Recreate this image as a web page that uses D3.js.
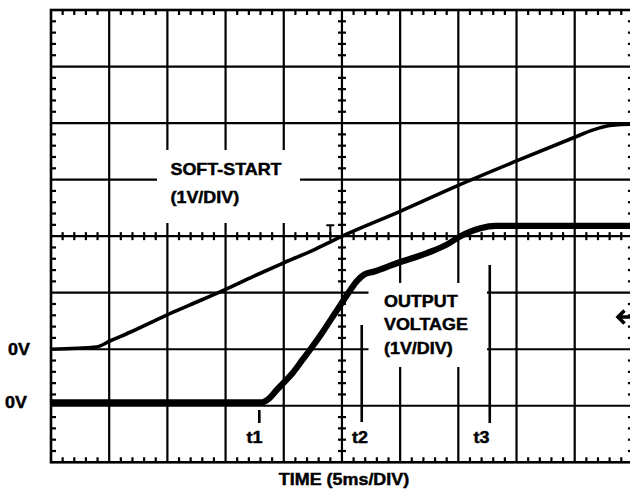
<!DOCTYPE html>
<html><head><meta charset="utf-8">
<script src="https://cdn.jsdelivr.net/npm/d3@7"></script>
<style>body{margin:0;background:#fff}svg{display:block}text{font-family:"Liberation Sans",Arial,sans-serif;font-weight:bold;fill:#000;stroke:#000;stroke-width:0.45px}</style>
</head><body><svg id="c" width="630" height="490"></svg>
<script>
// time in ms (5 ms/div), voltage in V (1 V/div)
const softStartT = [0, 3.9, 5.1, 6.8, 9.9, 11.9, 15.0, 17.4, 19.9, 22.5, 24.8, 30.0, 34.9, 40.0, 45.0, 46.6, 48.2, 49.8, 50];
const softStartV = [0, 0.04, 0.15, 0.30, 0.60, 0.78, 1.06, 1.29, 1.52, 1.75, 1.98, 2.44, 2.89, 3.33, 3.75, 3.88, 3.96, 3.98, 3.98];
const outputT = [0, 18.1, 18.8, 19.4, 20.0, 20.8, 21.6, 22.4, 23.2, 24.0, 24.8, 25.6, 26.3, 26.9, 27.7, 29.7, 32.3, 34.0, 35.1, 36.9, 38.2, 50];
const outputV = [0, 0, 0.08, 0.22, 0.35, 0.53, 0.75, 0.97, 1.20, 1.45, 1.70, 1.95, 2.15, 2.26, 2.31, 2.46, 2.64, 2.79, 2.93, 3.08, 3.12, 3.12];
const softStartZeroDiv = 2.0;   // channel ground position (divisions from bottom)
const outputZeroDiv = 1.06;
const timeMarkers = ["t1", "t2", "t3"];
const timeMarkerT = [17.9, 26.7, 37.7];
const xTitle = "TIME (5ms/DIV)";

const svg = d3.select("#c");
const L = 51, R = 632.9, T = 10, B = 462.3;
const x = d3.scaleLinear().domain([0, 50]).range([L, R]);
const yd = d3.scaleLinear().domain([0, 8]).range([B, T]);
const g = svg.append("g");

// major grid
const gridX = d3.range(5, 50, 5), gridY = d3.range(1, 8, 1);
g.selectAll(".vx").data(gridX).join("line").attr("x1", d => x(d)).attr("x2", d => x(d))
  .attr("y1", T).attr("y2", B).attr("stroke", "#000").attr("stroke-width", 2.2);
g.selectAll(".hy").data(gridY).join("line").attr("y1", d => yd(d)).attr("y2", d => yd(d))
  .attr("x1", L).attr("x2", R).attr("stroke", "#000").attr("stroke-width", 2.2);

// label boxes hiding grid
g.append("rect").attr("x", 157).attr("y", 150).attr("width", 143).attr("height", 73).attr("fill", "#fff");
g.append("rect").attr("x", 368.5).attr("y", 283).attr("width", 118.5).attr("height", 84).attr("fill", "#fff");

// border
g.append("rect").attr("x", L).attr("y", T).attr("width", R - L).attr("height", B - T)
  .attr("fill", "none").attr("stroke", "#000").attr("stroke-width", 2.6);

// minor ticks
const minorX = d3.range(1, 50, 1).filter(d => d % 5 !== 0);
const minorY = d3.range(0.2, 8, 0.2).filter(d => Math.abs(d - Math.round(d)) > 0.01);
const tk = 5;
const ticks = [];
minorX.forEach(d => { ticks.push([x(d), T, x(d), T + tk]); ticks.push([x(d), B, x(d), B - tk]); ticks.push([x(d), yd(4) - 4, x(d), yd(4) + 4]); });
minorY.forEach(d => { ticks.push([L, yd(d), L + tk, yd(d)]); ticks.push([R, yd(d), R - tk, yd(d)]); ticks.push([x(25) - 4, yd(d), x(25) + 4, yd(d)]); });
g.selectAll(".tk").data(ticks).join("line").attr("x1", d => d[0]).attr("y1", d => d[1]).attr("x2", d => d[2]).attr("y2", d => d[3])
  .attr("stroke", "#000").attr("stroke-width", 2.2);

// traces
const line = d3.line().curve(d3.curveMonotoneX);
const ssPts = softStartT.map((t, i) => [x(t), yd(softStartZeroDiv + softStartV[i])]);
const outPts = outputT.map((t, i) => [x(t), yd(outputZeroDiv + outputV[i])]);
g.append("path").attr("d", line(ssPts)).attr("fill", "none").attr("stroke", "#000").attr("stroke-width", 3.6).attr("stroke-linejoin", "round");
g.append("path").attr("d", line(outPts)).attr("fill", "none").attr("stroke", "#000").attr("stroke-width", 6.2).attr("stroke-linejoin", "round");

// trigger marker "T"
const tx = x(24.0), ty = yd(4);
g.append("path").attr("d", `M${tx - 4},${ty - 11}H${tx + 4}M${tx},${ty - 11}V${ty}`).attr("stroke", "#000").attr("stroke-width", 2).attr("fill", "none");

// right-edge ground arrow
const ay = 317;
g.append("path").attr("d", `M624.5,310.5L618,${ay}L624.5,323.5M618.5,${ay}H632`).attr("stroke", "#000").attr("stroke-width", 3.6).attr("fill", "none");

// time marker lines
const mk = [[timeMarkerT[0], 410, 423], [timeMarkerT[1], 325, 422], [timeMarkerT[2], 265, 423]];
g.selectAll(".mk").data(mk).join("line").attr("x1", d => x(d[0])).attr("x2", d => x(d[0])).attr("y1", d => d[1]).attr("y2", d => d[2])
  .attr("stroke", "#000").attr("stroke-width", 2.6);

// text
function txt(s, px, py, size, anchor) {
  svg.append("text").attr("transform", `translate(${px},${py}) scale(1.12,1)`).attr("font-size", size)
    .attr("text-anchor", anchor || "start").text(s);
}
txt("SOFT-START", 170.5, 175, 16);
txt("(1V/DIV)", 170.5, 203, 16);
txt("OUTPUT", 384, 306.5, 16);
txt("VOLTAGE", 384, 330, 16);
txt("(1V/DIV)", 384, 353.5, 16);
txt("0V", 8, 355, 16);
txt("0V", 5, 407.5, 16);
const tLabX = [254.5, 360, 481.5];
timeMarkers.forEach((s, i) => txt(s, tLabX[i], 442.5, 16, "middle"));
txt(xTitle, 344, 485, 16, "middle");
</script></body></html>
